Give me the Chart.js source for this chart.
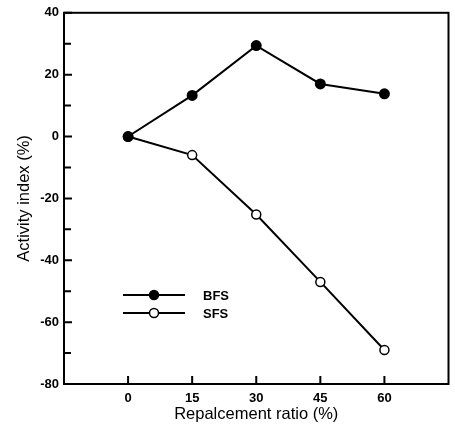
<!DOCTYPE html>
<html lang="en">
<head>
    <meta charset="UTF-8">
    <title>Activity index</title>
    <script src="https://cdn.jsdelivr.net/npm/chart.js"></script>
    <style>
        html, body { margin: 0; padding: 0; background: #fff; }
        #wrap { width: 455px; height: 426px; }
    </style>
</head>
<body>
<div id="wrap"><canvas id="chart" width="455" height="426"></canvas></div>
<script>
// data
const ratios = [0, 15, 30, 45, 60];
const bfsValues = [0, 13.3, 29.4, 17, 13.8];
const sfsValues = [0, -6, -25.2, -47, -69];
const xTickValues = [0, 15, 30, 45, 60];
const yMinorTicks = [30, 10, -10, -30, -50, -70];

const ink = '#000';
const tickFont = { family: 'Liberation Sans, Arial, sans-serif', size: 13, weight: 'bold' };
const titleFont = { family: 'Liberation Sans, Arial, sans-serif', size: 16.5 };

// inward ticks, frame and legend inside the plot
const framePlugin = {
    id: 'frame',
    afterDraw(chart) {
        const ctx = chart.ctx;
        const a = chart.chartArea;
        const xs = chart.scales.x, ys = chart.scales.y;
        ctx.save();
        ctx.strokeStyle = ink;
        ctx.lineWidth = 2;
        ctx.strokeRect(a.left, a.top, a.right - a.left, a.bottom - a.top);
        ctx.beginPath();
        xTickValues.forEach(v => {
            const px = xs.getPixelForValue(v);
            ctx.moveTo(px, a.bottom);
            ctx.lineTo(px, a.bottom - 8);
        });
        ys.ticks.forEach(t => {
            const py = ys.getPixelForValue(t.value);
            ctx.moveTo(a.left, py);
            ctx.lineTo(a.left + 8, py);
        });
        yMinorTicks.forEach(v => {
            const py = ys.getPixelForValue(v);
            ctx.moveTo(a.left, py);
            ctx.lineTo(a.left + 7, py);
        });
        ctx.stroke();

        // legend
        const rows = [[295, chart.data.datasets[0]], [313, chart.data.datasets[1]]];
        rows.forEach(([y, ds]) => {
            ctx.lineWidth = 2;
            ctx.beginPath();
            ctx.moveTo(123, y);
            ctx.lineTo(185, y);
            ctx.stroke();
            ctx.beginPath();
            ctx.arc(154, y, 4.5, 0, Math.PI * 2);
            ctx.fillStyle = ds.pointBackgroundColor;
            ctx.fill();
            ctx.lineWidth = 1.5;
            ctx.stroke();
            ctx.fillStyle = ink;
            ctx.font = 'bold 13px "Liberation Sans", Arial, sans-serif';
            ctx.textBaseline = 'middle';
            ctx.fillText(ds.label, 203, y + 1);
        });
        ctx.restore();
    }
};

new Chart(document.getElementById('chart'), {
    type: 'line',
    data: {
        datasets: [
            {
                label: 'BFS',
                data: ratios.map((x, i) => ({ x: x, y: bfsValues[i] })),
                borderColor: ink,
                borderWidth: 2,
                pointRadius: 4.5,
                pointBackgroundColor: ink,
                pointBorderColor: ink,
                tension: 0
            },
            {
                label: 'SFS',
                data: ratios.map((x, i) => ({ x: x, y: sfsValues[i] })),
                borderColor: ink,
                borderWidth: 2,
                pointRadius: 4.5,
                pointBackgroundColor: '#fff',
                pointBorderColor: ink,
                pointBorderWidth: 1.5,
                tension: 0
            }
        ]
    },
    options: {
        responsive: false,
        animation: false,
        layout: { padding: { top: 4, right: 2, left: 0, bottom: 0 } },
        plugins: { legend: { display: false }, tooltip: { enabled: false } },
        scales: {
            x: {
                type: 'linear',
                min: -15,
                max: 75,
                afterBuildTicks(scale) {
                    scale.ticks = xTickValues.map(v => ({ value: v }));
                },
                afterFit(scale) { scale.height = 42; },
                grid: { display: false, drawTicks: false },
                border: { display: false },
                ticks: { color: ink, font: tickFont, padding: 7, maxRotation: 0 },
                title: { display: true, text: 'Repalcement ratio (%)', color: ink, font: titleFont, padding: { top: 0, bottom: 2 } }
            },
            y: {
                min: -80,
                max: 40,
                afterFit(scale) { scale.width = 64; },
                grid: { display: false, drawTicks: false },
                border: { display: false },
                ticks: { stepSize: 20, color: ink, font: tickFont, padding: 5 },
                title: { display: true, text: 'Activity index (%)', color: ink, font: titleFont, padding: { top: 15, bottom: 0 } }
            }
        }
    },
    plugins: [framePlugin]
});
</script>
</body>
</html>
